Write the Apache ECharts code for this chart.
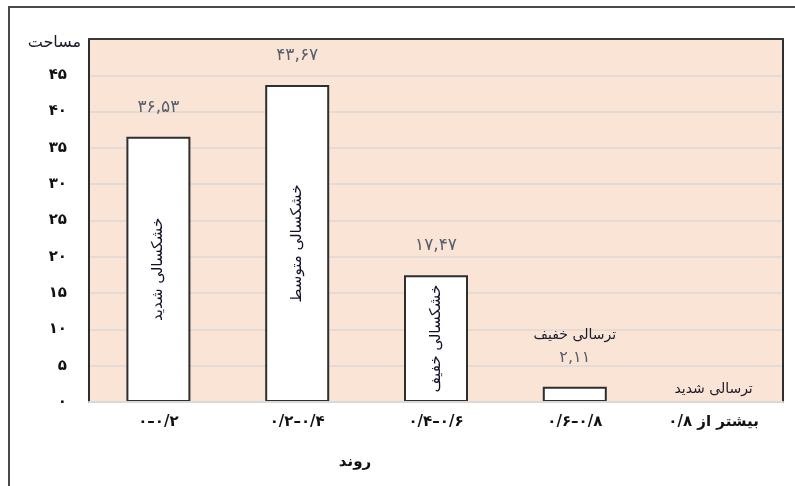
<!DOCTYPE html>
<html>
<head>
<meta charset="utf-8">
<script src="https://cdn.jsdelivr.net/npm/echarts@6/dist/echarts.min.js"></script>
<style>
  html, body { margin: 0; padding: 0; background: #fff; }
  #chart { width: 795px; height: 486px; }
</style>
</head>
<body>
<div id="chart"></div>
<script>
// Area share per trend class
const categories = ['۰–۰/۲', '۰/۲–۰/۴', '۰/۴–۰/۶', '۰/۶–۰/۸', '۰/۸ بیشتر از'];
const areaValues = [36.53, 43.67, 17.47, 2.11, 0];
const classNames = ['خشکسالی شدید', 'خشکسالی متوسط', 'خشکسالی خفیف', 'ترسالی خفیف', 'ترسالی شدید'];
const yTicks = [0, 5, 10, 15, 20, 25, 30, 35, 40, 45];

const FONT = '"DejaVu Sans", sans-serif';
const DIGITS = '۰۱۲۳۴۵۶۷۸۹';
function toFa(str) {
  return String(str).replace(/[0-9]/g, d => DIGITS[+d]);
}
function valueText(v) {
  return toFa(v.toFixed(2)).replace('.', ',');
}

const chart = echarts.init(document.getElementById('chart'), null, { renderer: 'canvas' });

// bars with class name written inside (tall bars only)
const mainData = areaValues.map((v, i) => {
  const tall = v > 10;
  return {
    value: v,
    itemStyle: v === 0 ? { borderWidth: 0 } : {},
    label: {
      show: tall,
      position: 'inside',
      rotate: 90,
      formatter: classNames[i],
      color: '#10102a',
      fontSize: 15,
      fontFamily: FONT
    }
  };
});

// transparent twin bars carrying labels above each bar
const topData = areaValues.map((v, i) => {
  const tall = v > 10;
  let label;
  if (tall) {
    label = {
      show: true, position: 'top', distance: 21,
      formatter: valueText(v),
      color: '#56606e', fontSize: 17, fontFamily: FONT
    };
  } else if (v > 0) {
    label = {
      show: true, position: 'top', distance: 17,
      formatter: '{a|' + classNames[i] + '}\n{b|' + valueText(v) + '}',
      rich: {
        a: { color: '#1b1b2b', fontSize: 14, lineHeight: 23, fontFamily: FONT },
        b: { color: '#56606e', fontSize: 16, lineHeight: 23, fontFamily: FONT }
      }
    };
  } else {
    label = {
      show: true, position: 'top', distance: 6,
      formatter: classNames[i],
      color: '#1b1b2b', fontSize: 14, fontFamily: FONT
    };
  }
  return { value: v, label: label };
});

const option = {
  animation: false,
  graphic: [{
    type: 'rect',
    silent: true,
    z: -10,
    shape: { x: 9, y: 7, width: 900, height: 600 },
    style: { fill: 'none', stroke: '#4a4a4a', lineWidth: 2 }
  }],
  grid: {
    left: 89, right: 12, top: 39, bottom: 84,
    show: true, backgroundColor: '#fae4d6', borderWidth: 0
  },
  xAxis: [{
    type: 'category',
    data: categories,
    z: 6,
    axisLine: { onZero: false, lineStyle: { color: '#d9d9d9', width: 2 } },
    axisTick: { show: false },
    axisLabel: {
      margin: 13, color: '#111', fontSize: 15, fontWeight: 'bold', fontFamily: FONT
    },
    name: 'روند',
    nameLocation: 'middle',
    nameGap: 60,
    nameTextStyle: {
      color: '#111', fontSize: 15, fontWeight: 'bold', fontFamily: FONT,
      verticalAlign: 'middle', padding: [0, 162, 0, 0]
    }
  }, {
    type: 'category',
    data: categories,
    position: 'top',
    axisLine: { onZero: false, lineStyle: { color: '#3a3a3a', width: 2 } },
    axisTick: { show: false },
    axisLabel: { show: false }
  }],
  yAxis: [{
    type: 'value',
    min: 0, max: 50, interval: 5,
    axisLine: { show: true, onZero: false, lineStyle: { color: '#2e2e2e', width: 2 } },
    axisTick: { show: false },
    splitLine: { lineStyle: { color: '#dcd8d6', width: 1.5 } },
    axisLabel: {
      margin: 22,
      padding: [0, 0, 8, 0],
      color: '#111', fontSize: 15, fontWeight: 'bold', fontFamily: FONT,
      formatter: v => (yTicks.indexOf(v) >= 0 ? toFa(v) : '')
    },
    name: 'مساحت',
    nameLocation: 'end',
    nameGap: -4,
    nameTextStyle: {
      color: '#1a1a2a', fontSize: 16, fontFamily: FONT,
      align: 'right', verticalAlign: 'middle', padding: [0, 8, 0, 0]
    }
  }, {
    type: 'value',
    position: 'right',
    min: 0, max: 50, interval: 5,
    axisLine: { show: true, onZero: false, lineStyle: { color: '#2e2e2e', width: 2 } },
    axisTick: { show: false },
    splitLine: { show: false },
    axisLabel: { show: false }
  }],
  series: [{
    type: 'bar',
    xAxisIndex: 0, yAxisIndex: 0,
    barWidth: 64,
    barGap: '-100%',
    itemStyle: { color: '#ffffff', borderColor: '#2f2f2f', borderWidth: 2 },
    data: mainData,
    z: 3
  }, {
    type: 'bar',
    xAxisIndex: 0, yAxisIndex: 0,
    barWidth: 64,
    barGap: '-100%',
    itemStyle: { color: 'rgba(0,0,0,0)', borderWidth: 0 },
    data: topData,
    z: 4
  }]
};

chart.setOption(option);
</script>
</body>
</html>
